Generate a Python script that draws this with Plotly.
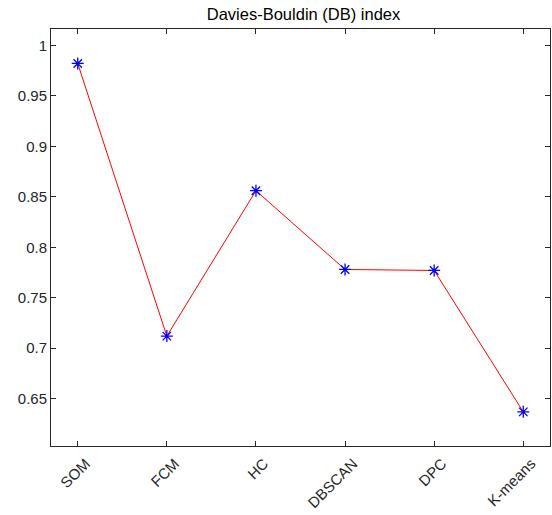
import plotly.graph_objects as go

# Clustering methods and their Davies-Bouldin index
methods = ["SOM", "FCM", "HC", "DBSCAN", "DPC", "K-means"]
db_index = [0.982, 0.712, 0.856, 0.778, 0.777, 0.637]
y_ticks = [0.65, 0.7, 0.75, 0.8, 0.85, 0.9, 0.95, 1]
y_tick_text = ["0.65", "0.7", "0.75", "0.8", "0.85", "0.9", "0.95", "1"]

positions = list(range(1, len(methods) + 1))
axis_color = "#262626"
font = dict(family="Liberation Sans, Arial, sans-serif", size=15, color=axis_color)

fig = go.Figure()
fig.add_trace(go.Scatter(
    x=positions, y=db_index,
    mode="lines+markers",
    line=dict(color="red", width=1),
    marker=dict(symbol="asterisk-open", size=10, color="blue",
                line=dict(color="blue", width=1.3)),
    showlegend=False,
))

axis_common = dict(
    showline=True, linecolor=axis_color, linewidth=1, mirror="ticks",
    ticks="inside", ticklen=5, tickcolor=axis_color, tickwidth=1,
    showgrid=False, zeroline=False, tickfont=font,
)
fig.update_xaxes(range=[0.7, 6.3], tickvals=positions, ticktext=methods,
                 tickangle=-45, ticklabelshift=8, ticklabelstandoff=2,
                 **axis_common)
fig.update_yaxes(range=[0.6032, 1.0161], tickvals=y_ticks, ticktext=y_tick_text,
                 **axis_common)

fig.update_layout(
    width=552, height=515,
    margin=dict(l=50.5, r=2.3, t=28.7, b=69),
    paper_bgcolor="white", plot_bgcolor="white",
    font=font,
    title=dict(text="Davies-Bouldin (DB) index", x=303.5 / 552, xanchor="center",
               y=1 - 14 / 515, yanchor="middle",
               font=dict(family="Liberation Sans, Arial, sans-serif", size=16.5, color="black")),
)

fig.write_html("out.html")
